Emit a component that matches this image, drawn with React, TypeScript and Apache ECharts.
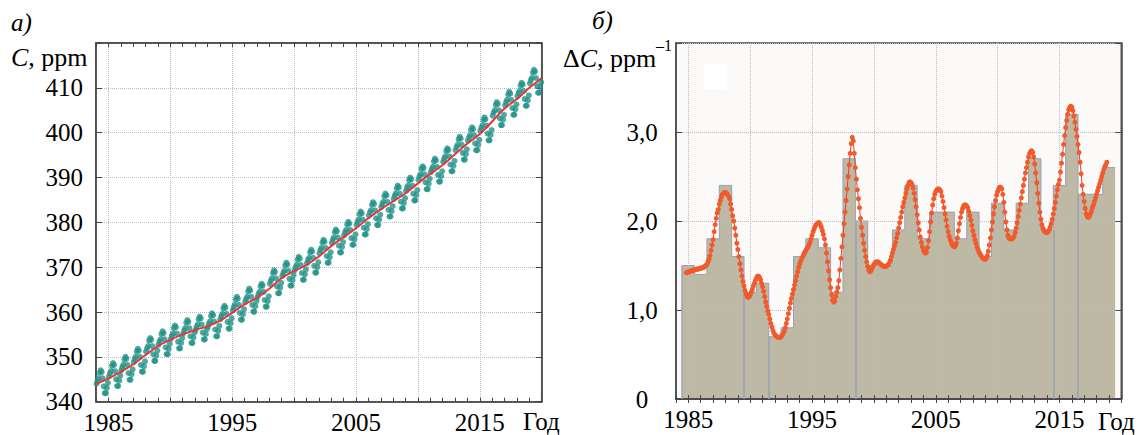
import React, { useEffect, useRef } from 'react';
import * as echarts from 'echarts';

// ---------- Panel a: CO2 concentration ----------
const co2Years = [
  1984, 1985, 1986, 1987, 1988, 1989, 1990, 1991, 1992, 1993, 1994, 1995,
  1996, 1997, 1998, 1999, 2000, 2001, 2002, 2003, 2004, 2005, 2006, 2007,
  2008, 2009, 2010, 2011, 2012, 2013, 2014, 2015, 2016, 2017, 2018, 2019,
];
// monthly values (Jan..Dec) for each year of co2Years
const co2Monthly: number[][] = [
  [344.0, 344.7, 345.2, 346.4, 347.0, 346.6, 345.2, 343.4, 341.9, 341.9, 343.1, 344.2],
  [345.6, 346.3, 346.8, 348.0, 348.6, 348.2, 346.8, 345.0, 343.5, 343.5, 344.7, 345.8],
  [347.0, 347.7, 348.2, 349.4, 350.0, 349.6, 348.2, 346.4, 344.9, 344.9, 346.1, 347.2],
  [348.8, 349.5, 350.0, 351.2, 351.8, 351.4, 350.0, 348.2, 346.7, 346.7, 347.9, 349.0],
  [351.2, 351.9, 352.4, 353.6, 354.2, 353.8, 352.4, 350.6, 349.1, 349.1, 350.3, 351.4],
  [352.7, 353.4, 353.9, 355.1, 355.7, 355.3, 353.9, 352.1, 350.6, 350.6, 351.8, 352.9],
  [354.0, 354.7, 355.2, 356.4, 357.0, 356.6, 355.2, 353.4, 351.9, 351.9, 353.1, 354.2],
  [355.2, 355.9, 356.4, 357.6, 358.2, 357.8, 356.4, 354.6, 353.1, 353.1, 354.3, 355.4],
  [356.0, 356.7, 357.2, 358.4, 359.0, 358.6, 357.2, 355.4, 353.9, 353.9, 355.1, 356.2],
  [356.7, 357.4, 357.9, 359.1, 359.7, 359.3, 357.9, 356.1, 354.6, 354.6, 355.8, 356.9],
  [358.4, 359.1, 359.6, 360.8, 361.4, 361.0, 359.6, 357.8, 356.3, 356.3, 357.5, 358.6],
  [360.4, 361.1, 361.6, 362.8, 363.4, 363.0, 361.6, 359.8, 358.3, 358.3, 359.5, 360.6],
  [362.2, 362.9, 363.4, 364.6, 365.2, 364.8, 363.4, 361.6, 360.1, 360.1, 361.3, 362.4],
  [363.3, 364.0, 364.5, 365.7, 366.3, 365.9, 364.5, 362.7, 361.2, 361.2, 362.4, 363.5],
  [366.3, 367.0, 367.5, 368.7, 369.3, 368.9, 367.5, 365.7, 364.2, 364.2, 365.4, 366.5],
  [368.0, 368.7, 369.2, 370.4, 371.0, 370.6, 369.2, 367.4, 365.9, 365.9, 367.1, 368.2],
  [369.3, 370.0, 370.5, 371.7, 372.3, 371.9, 370.5, 368.7, 367.2, 367.2, 368.4, 369.5],
  [370.9, 371.6, 372.1, 373.3, 373.9, 373.5, 372.1, 370.3, 368.8, 368.8, 370.0, 371.1],
  [373.1, 373.8, 374.3, 375.5, 376.1, 375.7, 374.3, 372.5, 371.0, 371.0, 372.2, 373.3],
  [375.4, 376.1, 376.6, 377.8, 378.4, 378.0, 376.6, 374.8, 373.3, 373.3, 374.5, 375.6],
  [377.1, 377.8, 378.3, 379.5, 380.1, 379.7, 378.3, 376.5, 375.0, 375.0, 376.2, 377.3],
  [379.4, 380.1, 380.6, 381.8, 382.4, 382.0, 380.6, 378.8, 377.3, 377.3, 378.5, 379.6],
  [381.5, 382.2, 382.7, 383.9, 384.5, 384.1, 382.7, 380.9, 379.4, 379.4, 380.6, 381.7],
  [383.4, 384.1, 384.6, 385.8, 386.4, 386.0, 384.6, 382.8, 381.3, 381.3, 382.5, 383.6],
  [385.2, 385.9, 386.4, 387.6, 388.2, 387.8, 386.4, 384.6, 383.1, 383.1, 384.3, 385.4],
  [387.0, 387.7, 388.2, 389.4, 390.0, 389.6, 388.2, 386.4, 384.9, 384.9, 386.1, 387.2],
  [389.5, 390.2, 390.7, 391.9, 392.5, 392.1, 390.7, 388.9, 387.4, 387.4, 388.6, 389.7],
  [391.2, 391.9, 392.4, 393.6, 394.2, 393.8, 392.4, 390.6, 389.1, 389.1, 390.3, 391.4],
  [393.5, 394.2, 394.7, 395.9, 396.5, 396.1, 394.7, 392.9, 391.4, 391.4, 392.6, 393.7],
  [396.1, 396.8, 397.3, 398.5, 399.1, 398.7, 397.3, 395.5, 394.0, 394.0, 395.2, 396.3],
  [398.2, 398.9, 399.4, 400.6, 401.2, 400.8, 399.4, 397.6, 396.1, 396.1, 397.3, 398.4],
  [400.4, 401.1, 401.6, 402.8, 403.4, 403.0, 401.6, 399.8, 398.3, 398.3, 399.5, 400.6],
  [403.8, 404.5, 405.0, 406.2, 406.8, 406.4, 405.0, 403.2, 401.7, 401.7, 402.9, 404.0],
  [406.1, 406.8, 407.3, 408.5, 409.1, 408.7, 407.3, 405.5, 404.0, 404.0, 405.2, 406.3],
  [408.1, 408.8, 409.3, 410.5, 411.1, 410.7, 409.3, 407.5, 406.0, 406.0, 407.2, 408.3],
  [411.0, 411.7, 412.2, 413.4, 414.0, 413.6, 412.2, 410.4, 408.9, 408.9, 410.1, 411.2],
];
// smoothed trend (red line), value at the start of each year
const trendYears = [
  1984, 1985, 1986, 1987, 1988, 1989, 1990, 1991, 1992, 1993, 1994, 1995, 1996,
  1997, 1998, 1999, 2000, 2001, 2002, 2003, 2004, 2005, 2006, 2007, 2008, 2009,
  2010, 2011, 2012, 2013, 2014, 2015, 2016, 2017, 2018, 2019, 2020,
];
const trendValues = [
  343.9, 345.2, 346.7, 348.3, 350.4, 352.4, 353.8, 355.0, 356.0, 356.8, 358.0, 359.8, 361.7,
  363.2, 365.2, 367.6, 369.1, 370.5, 372.4, 374.7, 376.7, 378.7, 380.9, 382.9, 384.7, 386.5,
  388.7, 390.8, 392.8, 395.2, 397.6, 399.7, 402.5, 405.4, 407.5, 410.0, 412.2,
];
const co2Ticks = [340, 350, 360, 370, 380, 390, 400, 410];

// ---------- Panel b: growth rate ----------
const growthYears = [
  1985, 1986, 1987, 1988, 1989, 1990, 1991, 1992, 1993, 1994, 1995, 1996,
  1997, 1998, 1999, 2000, 2001, 2002, 2003, 2004, 2005, 2006, 2007, 2008,
  2009, 2010, 2011, 2012, 2013, 2014, 2015, 2016, 2017, 2018, 2019,
];
const growthBars = [
  1.5, 1.4, 1.8, 2.4, 1.6, 1.2, 1.3, 0.7, 0.8, 1.6, 1.8, 1.7,
  1.2, 2.7, 2.0, 1.5, 1.5, 1.9, 2.4, 1.8, 2.1, 2.1, 1.8, 2.1,
  1.6, 2.2, 1.9, 2.2, 2.7, 1.9, 2.4, 3.2, 2.3, 2.3, 2.6,
];
// smoothed monthly growth curve, starting Nov 1984
const curveStartYear = 1984;
const curveStartMonth = 10;
const growthCurve = [
  1.42, 1.42,
  1.43, 1.43, 1.44, 1.44, 1.44, 1.45, 1.45, 1.45, 1.46, 1.46, 1.46, 1.47, // 1985
  1.47, 1.47, 1.48, 1.48, 1.49, 1.50, 1.51, 1.54, 1.57, 1.61, 1.67, 1.73, // 1986
  1.79, 1.88, 1.96, 2.03, 2.09, 2.13, 2.19, 2.23, 2.27, 2.30, 2.31, 2.32, // 1987
  2.32, 2.31, 2.30, 2.28, 2.25, 2.19, 2.13, 2.06, 2.00, 1.92, 1.84, 1.75, // 1988
  1.68, 1.60, 1.52, 1.45, 1.38, 1.32, 1.27, 1.22, 1.18, 1.15, 1.14, 1.15, // 1989
  1.17, 1.20, 1.23, 1.27, 1.30, 1.33, 1.36, 1.38, 1.38, 1.37, 1.34, 1.30, // 1990
  1.26, 1.21, 1.15, 1.09, 1.04, 0.99, 0.95, 0.90, 0.85, 0.81, 0.77, 0.74, // 1991
  0.72, 0.71, 0.70, 0.69, 0.69, 0.69, 0.70, 0.72, 0.74, 0.76, 0.80, 0.85, // 1992
  0.90, 0.96, 1.02, 1.08, 1.13, 1.18, 1.23, 1.28, 1.33, 1.38, 1.43, 1.48, // 1993
  1.52, 1.55, 1.58, 1.60, 1.63, 1.65, 1.67, 1.69, 1.71, 1.73, 1.76, 1.80, // 1994
  1.84, 1.88, 1.91, 1.94, 1.96, 1.97, 1.98, 1.98, 1.96, 1.93, 1.89, 1.85, // 1995
  1.80, 1.73, 1.64, 1.54, 1.44, 1.34, 1.25, 1.17, 1.11, 1.09, 1.10, 1.15, // 1996
  1.20, 1.25, 1.33, 1.45, 1.58, 1.71, 1.84, 1.97, 2.10, 2.23, 2.36, 2.50, // 1997
  2.63, 2.76, 2.87, 2.94, 2.90, 2.76, 2.60, 2.47, 2.35, 2.25, 2.15, 2.03, // 1998
  1.93, 1.84, 1.75, 1.67, 1.60, 1.54, 1.49, 1.45, 1.43, 1.44, 1.46, 1.49, // 1999
  1.51, 1.53, 1.54, 1.54, 1.54, 1.53, 1.52, 1.51, 1.50, 1.49, 1.49, 1.49, // 2000
  1.49, 1.50, 1.51, 1.53, 1.56, 1.60, 1.64, 1.68, 1.72, 1.76, 1.81, 1.86, // 2001
  1.92, 1.98, 2.04, 2.10, 2.16, 2.21, 2.26, 2.31, 2.36, 2.40, 2.43, 2.44, // 2002
  2.43, 2.41, 2.37, 2.31, 2.24, 2.16, 2.07, 1.98, 1.90, 1.82, 1.76, 1.71, // 2003
  1.67, 1.65, 1.64, 1.65, 1.70, 1.78, 1.88, 1.99, 2.09, 2.18, 2.25, 2.30, // 2004
  2.33, 2.35, 2.36, 2.36, 2.35, 2.33, 2.28, 2.22, 2.15, 2.08, 2.01, 1.94, // 2005
  1.88, 1.83, 1.79, 1.76, 1.73, 1.72, 1.71, 1.72, 1.75, 1.81, 1.89, 1.97, // 2006
  2.04, 2.10, 2.14, 2.17, 2.18, 2.18, 2.17, 2.15, 2.11, 2.06, 2.01, 1.95, // 2007
  1.89, 1.84, 1.79, 1.75, 1.71, 1.68, 1.65, 1.63, 1.61, 1.59, 1.58, 1.57, // 2008
  1.57, 1.58, 1.61, 1.66, 1.73, 1.81, 1.90, 1.99, 2.08, 2.16, 2.23, 2.29, // 2009
  2.33, 2.36, 2.38, 2.38, 2.36, 2.30, 2.21, 2.10, 1.99, 1.90, 1.84, 1.81, // 2010
  1.80, 1.80, 1.80, 1.81, 1.83, 1.87, 1.92, 1.98, 2.05, 2.12, 2.19, 2.26, // 2011
  2.33, 2.40, 2.47, 2.54, 2.60, 2.66, 2.72, 2.76, 2.78, 2.79, 2.77, 2.72, // 2012
  2.64, 2.54, 2.43, 2.31, 2.20, 2.10, 2.02, 1.96, 1.92, 1.89, 1.88, 1.87, // 2013
  1.87, 1.88, 1.90, 1.93, 1.97, 2.02, 2.08, 2.14, 2.21, 2.28, 2.35, 2.41, // 2014
  2.46, 2.55, 2.65, 2.75, 2.86, 2.96, 3.05, 3.13, 3.20, 3.25, 3.28, 3.29, // 2015
  3.28, 3.24, 3.18, 3.11, 3.03, 2.95, 2.86, 2.77, 2.66, 2.53, 2.40, 2.30, // 2016
  2.22, 2.14, 2.08, 2.05, 2.04, 2.05, 2.08, 2.11, 2.15, 2.18, 2.22, 2.26, // 2017
  2.30, 2.34, 2.38, 2.42, 2.46, 2.50, 2.54, 2.58, 2.61, 2.63, 2.66,       // 2018
];
// boundaries between bars where a full-height edge line is visible
const edgeYears = [1984.5, 1989.5, 1991.5, 1998.5, 2014.5, 2016.5];

const xLabelYears = [1985, 1995, 2005, 2015];
const xMin = 1984;
const xMax = 2020;

const FONT = 'Liberation Serif';
const FRAME = '#454545';

export default function App() {
  const ref = useRef<HTMLDivElement>(null);

  useEffect(() => {
    if (!ref.current) return;
    const chart = echarts.init(ref.current, undefined, { renderer: 'svg' });

    const dots: number[][] = [];
    co2Monthly.forEach((row, i) => {
      row.forEach((v, m) => dots.push([co2Years[i] + (m + 0.5) / 12, v]));
    });
    const trend = trendYears.map((y, i) => [y, trendValues[i]]);

    const outline: number[][] = [];
    growthYears.forEach((y, i) => {
      outline.push([y - 0.5, growthBars[i]]);
      outline.push([y + 0.5, growthBars[i]]);
    });
    const barAt = (y: number) => {
      const i = growthYears.indexOf(y);
      return i < 0 ? 0 : growthBars[i];
    };
    const edgeLines = edgeYears.map((e) => {
      const h = Math.min(barAt(e - 0.5), barAt(e + 0.5)) || Math.max(barAt(e - 0.5), barAt(e + 0.5));
      return [{ coord: [e, 0] }, { coord: [e, h] }];
    });
    const curve = growthCurve.map((v, i) => [curveStartYear + (curveStartMonth + i) / 12, v]);

    const gridLine = { show: true, lineStyle: { color: '#bdbdbd', type: 'dotted' as const, width: 1 } };
    const labelStyle = { fontFamily: FONT, fontSize: 25, color: '#000' };

    const tickAxis = (gridIndex: number, position: 'bottom' | 'top', labels: boolean, z: number) => ({
      type: 'value' as const,
      gridIndex,
      position,
      min: xMin,
      max: xMax,
      interval: 1,
      z,
      axisLine: { show: true, lineStyle: { color: FRAME, width: 1.5 } },
      axisTick: { show: true, inside: true, length: 4, lineStyle: { color: FRAME, width: 1 } },
      axisLabel: labels
        ? {
            ...labelStyle,
            margin: 8,
            showMinLabel: true,
            showMaxLabel: true,
            formatter: (v: number) => (xLabelYears.includes(v) ? String(v) : ''),
          }
        : { show: false },
      splitLine: { show: false },
    });
    const splitAxisX = (gridIndex: number, z: number) => ({
      type: 'value' as const,
      gridIndex,
      min: xMin,
      max: xMax,
      minInterval: 5,
      maxInterval: 5,
      z,
      axisLine: { show: false },
      axisTick: { show: false },
      axisLabel: { show: false },
      splitLine: gridLine,
    });

    const ts = (size: number, italic = false) => ({
      fontFamily: FONT, fontSize: size, fontStyle: italic ? 'italic' : 'normal', fill: '#000',
    });

    const option: echarts.EChartsOption = {
      animation: false,
      backgroundColor: '#ffffff',
      grid: [
        { left: 96, top: 43, width: 445.7, height: 358.7, show: true, borderColor: FRAME, borderWidth: 1.5, backgroundColor: '#ffffff' },
        { left: 676, top: 43, width: 445.3, height: 356, show: true, borderColor: FRAME, borderWidth: 1.5, backgroundColor: '#fbfaf8' },
      ],
      xAxis: [
        tickAxis(0, 'bottom', true, 0),
        tickAxis(0, 'top', false, 0),
        splitAxisX(0, 0),
        tickAxis(1, 'bottom', true, 3),
        tickAxis(1, 'top', false, 3),
        splitAxisX(1, 3),
      ] as any,
      yAxis: [
        {
          type: 'value', gridIndex: 0, position: 'left', min: 340, max: 420, interval: 10,
          axisLine: { show: true, lineStyle: { color: FRAME, width: 1.5 } },
          axisTick: { show: true, inside: true, length: 6, lineStyle: { color: FRAME } },
          axisLabel: { ...labelStyle, margin: 13, formatter: (v: number) => (co2Ticks.includes(v) ? String(v) : '') },
          splitLine: gridLine,
        },
        {
          type: 'value', gridIndex: 0, position: 'right', min: 340, max: 420, interval: 10,
          axisLine: { show: true, lineStyle: { color: FRAME, width: 1.5 } },
          axisTick: { show: true, inside: true, length: 6, lineStyle: { color: FRAME } },
          axisLabel: { show: false },
          splitLine: { show: false },
        },
        {
          type: 'value', gridIndex: 1, position: 'left', min: 0, max: 4, interval: 1, z: 3,
          axisLine: { show: true, lineStyle: { color: FRAME, width: 1.5 } },
          axisTick: { show: true, inside: true, length: 6, lineStyle: { color: FRAME } },
          axisLabel: {
            ...labelStyle, margin: 34, align: 'center',
            formatter: (v: number) => (v >= 4 ? '' : v === 0 ? '0' : v.toFixed(1).replace('.', ',')),
          },
          splitLine: gridLine,
        },
        {
          type: 'value', gridIndex: 1, position: 'right', min: 0, max: 4, interval: 1, z: 3,
          axisLine: { show: true, lineStyle: { color: FRAME, width: 1.5 } },
          axisTick: { show: true, inside: true, length: 6, lineStyle: { color: FRAME } },
          axisLabel: { show: false },
          splitLine: { show: false },
        },
      ] as any,
      series: [
        {
          type: 'scatter', xAxisIndex: 0, yAxisIndex: 0, data: dots,
          symbol: 'circle', symbolSize: 6, itemStyle: { color: '#23928a' }, z: 2,
        },
        {
          type: 'line', xAxisIndex: 0, yAxisIndex: 0, data: trend, smooth: 0.35,
          symbol: 'none', lineStyle: { color: '#e8353a', width: 2 }, z: 4,
        },
        {
          type: 'line', xAxisIndex: 3, yAxisIndex: 2, data: outline, symbol: 'none',
          lineStyle: { color: '#98a0b6', width: 1 },
          areaStyle: { color: '#bdb9a4', opacity: 1 }, z: 1,
          markLine: {
            silent: true, symbol: 'none', label: { show: false },
            lineStyle: { color: '#98a0b6', width: 1.5, type: 'solid' },
            data: edgeLines as any,
          },
        },
        {
          type: 'line', xAxisIndex: 3, yAxisIndex: 2, data: curve, symbol: 'circle', symbolSize: 5,
          showAllSymbol: true, lineStyle: { color: '#e8402c', width: 1 },
          itemStyle: { color: '#f15a2c' }, z: 6,
        },
      ] as any,
      graphic: [
        { type: 'rect', shape: { x: 704, y: 64, width: 23, height: 25 }, style: { fill: '#ffffff' }, z: 10 },
        { type: 'text', x: 11, y: 22, style: { text: 'а)', ...ts(25, true), verticalAlign: 'middle' } },
        {
          type: 'text', x: 11, y: 57,
          style: {
            text: '{i|C}{n|, ppm}', verticalAlign: 'middle',
            rich: { i: ts(26, true), n: ts(26) },
          },
        },
        { type: 'text', x: 592, y: 20, style: { text: 'б)', ...ts(25, true), verticalAlign: 'middle' } },
        {
          type: 'text', x: 563, y: 58,
          style: {
            text: '{n|Δ}{i|C}{n|, ppm}', verticalAlign: 'middle',
            rich: { i: ts(26, true), n: ts(26) },
          },
        },
        { type: 'text', x: 656, y: 45, style: { text: '–1', ...ts(16), verticalAlign: 'middle' } },
        { type: 'text', x: 523, y: 421, style: { text: 'Год', ...ts(25), verticalAlign: 'middle' } },
        { type: 'text', x: 1098, y: 421, style: { text: 'Год', ...ts(25), verticalAlign: 'middle' } },
      ] as any,
    };

    chart.setOption(option);
    return () => chart.dispose();
  }, []);

  return <div ref={ref} style={{ position: 'absolute', left: 0, top: 0, width: 1144, height: 435 }} />;
}
